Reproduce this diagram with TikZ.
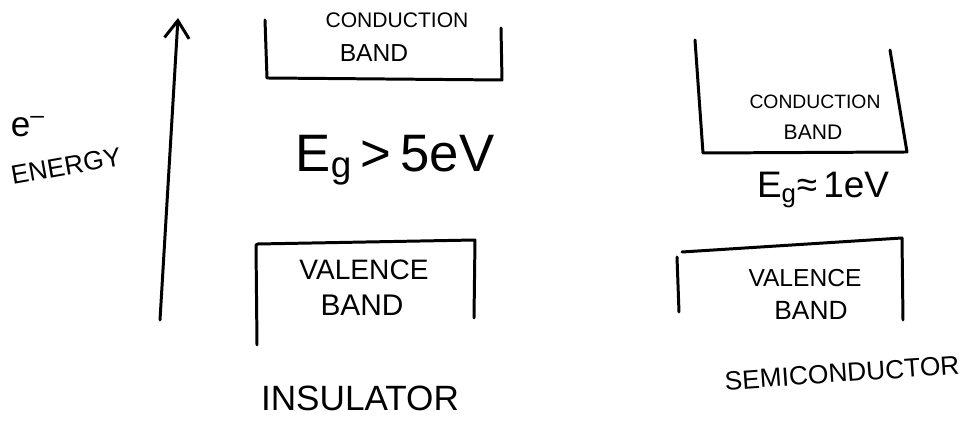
\documentclass[tikz,border=0pt]{standalone}
\usepackage{fontspec}
\setmainfont{Liberation Sans}
\usetikzlibrary{arrows.meta}
\begin{document}
\begin{tikzpicture}[x=0.02cm,y=-0.02cm,
  stroke/.style={line width=1.7pt,line cap=round,line join=round},
  lbl/.style={inner sep=0pt,font=\fontsize{12}{13}\selectfont},
  big/.style={inner sep=0pt,font=\fontsize{16}{18}\selectfont}]
\useasboundingbox (0,0) rectangle (965,421);
% energy axis
\coordinate (ebot) at (160,320);
\coordinate (etop) at (178,18);
\draw[stroke,-{Straight Barb[length=10pt,width=14pt,line width=1.7pt]}] (ebot) -- (etop);
\node[inner sep=0pt,font=\fontsize{20}{22}\selectfont] (e) at (28,127) {e\textsuperscript{\textendash}};
\node[inner sep=0pt,font=\fontsize{15}{16}\selectfont,rotate=10] (energy) at (66,166) {ENERGY};
% insulator conduction band
\draw[stroke] (265,20) -- (267,78) -- (502,80) -- (501,28);
\node[lbl] (icb1) at (397,20) {CONDUCTION};
\node[lbl,font=\fontsize{14}{15}\selectfont] (icb2) at (374,53) {BAND};
\node[inner sep=0pt,font=\fontsize{30}{32}\selectfont] (igap) at (395,160) {E\textsubscript{g}\,>\,5eV};
% insulator valence band
\draw[stroke] (257,345) -- (256,245) -- (258,244) -- (475,240) -- (474,318);
\node[big] (ivb1) at (364,270) {VALENCE};
\node[big,font=\fontsize{17}{18}\selectfont] (ivb2) at (362,305) {BAND};
\node[inner sep=0pt,font=\fontsize{20}{22}\selectfont] (ins) at (360,398) {INSULATOR};
% semiconductor conduction band
\draw[stroke] (695,40) -- (703,153) -- (907,152) -- (890,50);
\node[lbl,font=\fontsize{11}{12}\selectfont] (scb1) at (815,102) {CONDUCTION};
\node[lbl,font=\fontsize{12}{13}\selectfont] (scb2) at (813,132) {BAND};
\node[inner sep=0pt,font=\fontsize{21}{23}\selectfont] (sgap) at (823,190) {E\textsubscript{g}≈\,1eV};
% semiconductor valence band
\draw[stroke] (682,252) -- (902,238) -- (903,320);
\draw[stroke] (677,257) -- (679,312);
\node[big,font=\fontsize{14}{15}\selectfont] (svb1) at (805,278) {VALENCE};
\node[big,font=\fontsize{15}{16}\selectfont] (svb2) at (811,310) {BAND};
\node[inner sep=0pt,font=\fontsize{15}{16}\selectfont,rotate=4] (semi) at (842,373) {SEMICONDUCTOR};
\end{tikzpicture}
\end{document}
